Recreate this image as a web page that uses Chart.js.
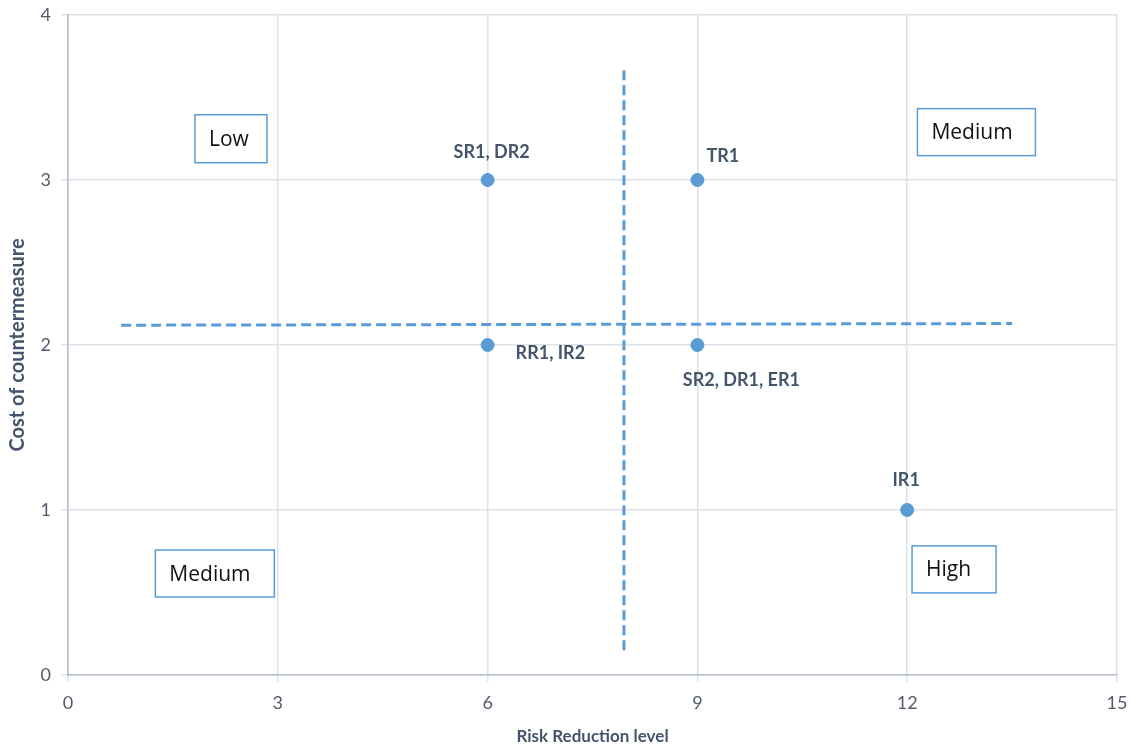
<!DOCTYPE html>
<html>
<head>
<meta charset="utf-8">
<script src="https://cdn.jsdelivr.net/npm/chart.js@4"></script>
<style>
  html, body { margin: 0; padding: 0; background: #fff; }
  #wrap { width: 1140px; height: 751px; }
</style>
</head>
<body>
<div id="wrap"><canvas id="myChart" width="1140" height="751"></canvas></div>
<script>
// countermeasures
const pointNames = ["SR1, DR2", "TR1", "RR1, IR2", "SR2, DR1, ER1", "IR1"];
const riskReduction = [6, 9, 6, 9, 12];
const costLevel = [3, 3, 2, 2, 1];

// quadrant dividers (dashed)
const hDividerX = [0.76, 13.5];
const hDividerY = [2.12, 2.13];
const vDividerX = [7.95, 7.95];
const vDividerY = [0.15, 3.67];

// quadrant boxes
const regionNames = ["Low", "Medium", "Medium", "High"];
const regionX = [2.33, 12.99, 2.10, 12.67];
const regionY = [3.25, 3.29, 0.615, 0.64];

const xTicks = [0, 3, 6, 9, 12, 15];
const yTicks = [0, 1, 2, 3, 4];

const blue = "#5b9bd5";
const labelOffsets = [[4, -28, "center"], [9, -24, "left"], [28, 8, "left"], [44, 35, "center"], [-1, -30, "center"]];
const boxSizes = [[72, 48], [118, 47], [119, 47], [84, 47]];

const labelsPlugin = {
  id: "labelsPlugin",
  afterDatasetsDraw(chart) {
    const ctx = chart.ctx;
    const xs = chart.scales.x, ys = chart.scales.y;
    ctx.save();
    // point labels
    ctx.font = "bold 18px Lato";
    ctx.fillStyle = "#44546a";
    ctx.textBaseline = "middle";
    pointNames.forEach((name, i) => {
      const px = xs.getPixelForValue(riskReduction[i]);
      const py = ys.getPixelForValue(costLevel[i]);
      const off = labelOffsets[i];
      ctx.textAlign = off[2];
      ctx.fillText(name, px + off[0], py + off[1]);
    });
    // region boxes
    ctx.font = "21px 'Open Sans'";
    ctx.textAlign = "left";
    regionNames.forEach((name, i) => {
      const cx = xs.getPixelForValue(regionX[i]);
      const cy = ys.getPixelForValue(regionY[i]);
      const w = boxSizes[i][0], h = boxSizes[i][1];
      ctx.fillStyle = "#fff";
      ctx.fillRect(cx - w / 2, cy - h / 2, w, h);
      ctx.strokeStyle = blue;
      ctx.lineWidth = 1.5;
      ctx.strokeRect(cx - w / 2, cy - h / 2, w, h);
      ctx.fillStyle = "#111";
      ctx.fillText(name, cx - w / 2 + 14, cy + 1);
    });
    ctx.restore();
  }
};

const ctx = document.getElementById("myChart").getContext("2d");
const chart = new Chart(ctx, {
  type: "scatter",
  data: {
    datasets: [
      {
        label: "H divider",
        data: hDividerX.map((x, i) => ({ x: x, y: hDividerY[i] })),
        showLine: true,
        borderColor: blue,
        borderWidth: 3,
        borderDash: [10, 5],
        pointRadius: 0
      },
      {
        label: "V divider",
        data: vDividerX.map((x, i) => ({ x: x, y: vDividerY[i] })),
        showLine: true,
        borderColor: blue,
        borderWidth: 3,
        borderDash: [10, 5],
        pointRadius: 0
      },
      {
        label: "Countermeasures",
        data: riskReduction.map((x, i) => ({ x: x, y: costLevel[i] })),
        backgroundColor: blue,
        borderColor: blue,
        pointRadius: 6.5,
        pointHoverRadius: 6.5
      }
    ]
  },
  options: {
    responsive: false,
    animation: false,
    layout: { padding: { top: 15, right: 23, left: 0, bottom: 0 } },
    plugins: { legend: { display: false }, tooltip: { enabled: false } },
    scales: {
      x: {
        type: "linear",
        min: 0, max: 15,
        afterBuildTicks: (s) => { s.ticks = xTicks.map(v => ({ value: v })); },
        afterFit: (s) => { s.height = 76; s.paddingRight = 0; },
        grid: { color: "#dde2ea", lineWidth: 1.5, tickLength: 7 },
        border: { color: "#b4bdcb", width: 1.5 },
        ticks: { color: "#525c6b", font: { family: "Lato", size: 18 }, padding: 10 },
        title: { display: true, text: "Risk Reduction level", color: "#44546a",
                 font: { family: "Lato", size: 17, weight: "bold" }, padding: { top: 4, bottom: 4 } }
      },
      y: {
        type: "linear",
        min: 0, max: 4,
        afterBuildTicks: (s) => { s.ticks = yTicks.map(v => ({ value: v })); },
        afterFit: (s) => { s.width = 68; s.paddingTop = 0; s.paddingBottom = 0; },
        grid: { color: "#dde2ea", lineWidth: 1.5, tickLength: 7 },
        border: { color: "#b4bdcb", width: 1.5 },
        ticks: { color: "#525c6b", font: { family: "Lato", size: 18 }, padding: 10 },
        title: { display: true, text: "Cost of countermeasure", color: "#44546a",
                 font: { family: "Lato", size: 20, weight: "bold" }, padding: { top: 6, bottom: 4 } }
      }
    }
  },
  plugins: [labelsPlugin]
});
</script>
</body>
</html>
